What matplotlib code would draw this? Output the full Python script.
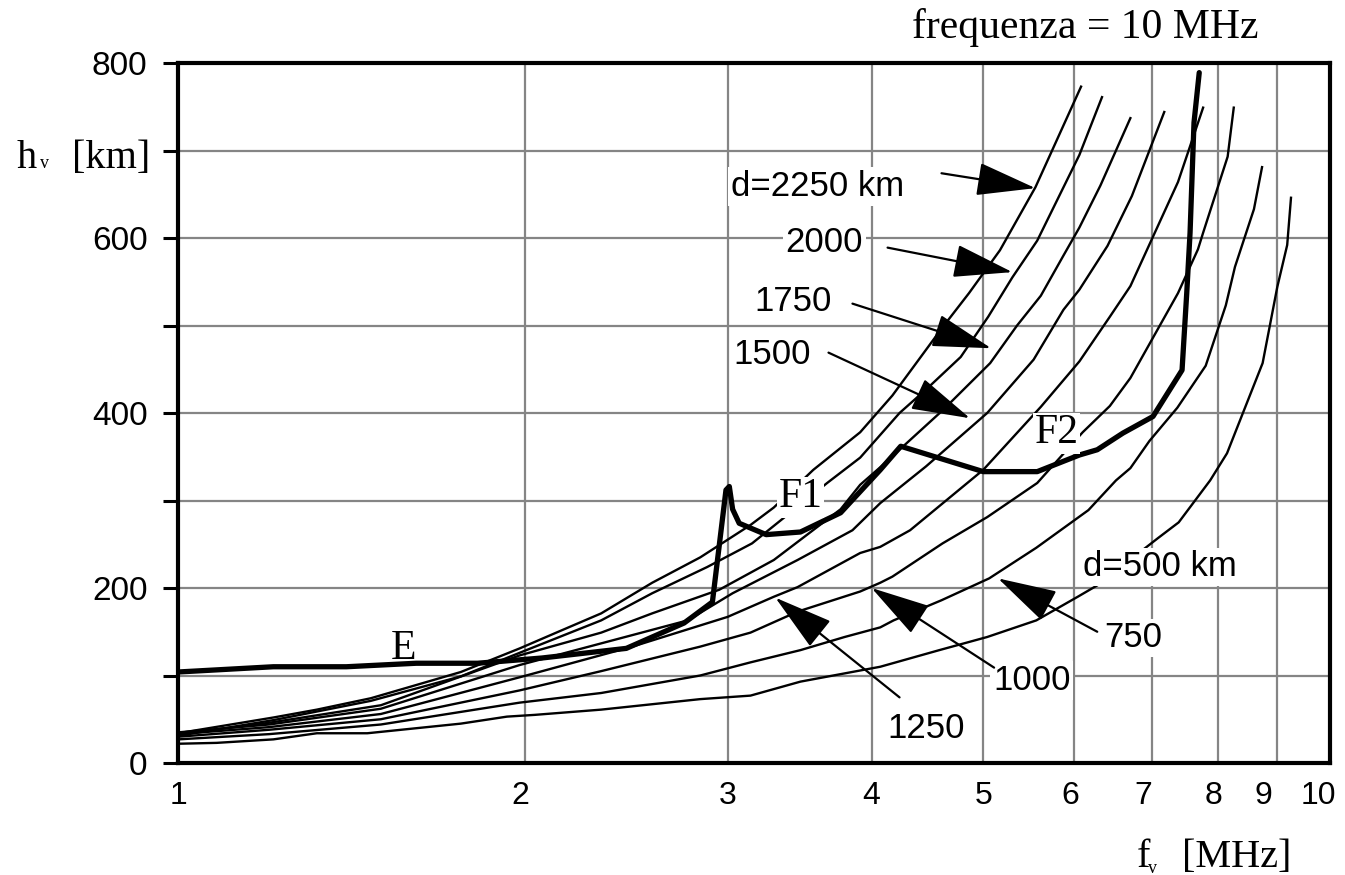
import numpy as np
import matplotlib.pyplot as plt
from matplotlib.ticker import FixedLocator, FuncFormatter, NullLocator, NullFormatter
from matplotlib.transforms import ScaledTranslation

# h_v vs f_v for fixed ground distance d (operating frequency 10 MHz)
f_500 = [1.0, 1.08, 1.21, 1.32, 1.46, 1.76, 1.93, 2.04, 2.33, 2.84, 3.14, 3.47, 4.07, 4.58,
         5.04, 5.56, 6.04, 6.28, 7.09, 7.39, 7.87, 8.14, 8.27, 8.74, 9.0, 9.18, 9.25]
h_500 = [22, 23, 27, 34, 34, 45, 53, 55, 61, 73, 77, 93, 110, 129,
         144, 163, 190, 203, 257, 275, 323, 354, 377, 457, 544, 592, 646]

f_750 = [1.0, 1.2, 1.5, 1.98, 2.33, 2.84, 3.14, 3.47, 3.79, 4.07, 4.18, 4.60, 5.06, 5.56,
         6.17, 6.52, 6.71, 6.97, 7.37, 7.80, 8.12, 8.27, 8.59, 8.73]
h_750 = [27, 33, 44, 69, 80, 100, 115, 129, 144, 155, 163, 186, 211, 246,
         289, 323, 337, 368, 406, 454, 523, 567, 633, 681]

f_1000 = [1.0, 1.2, 1.5, 1.98, 2.33, 2.84, 3.14, 3.45, 3.91, 4.07, 4.17, 4.61, 5.04, 5.57,
          6.10, 6.44, 6.71, 7.38, 7.68, 7.76, 8.15, 8.25]
h_1000 = [30, 38, 50, 83, 105, 133, 149, 173, 196, 206, 213, 251, 281, 320,
          378, 408, 440, 537, 587, 606, 693, 749]

f_1250 = [1.0, 1.2, 1.5, 1.98, 2.48, 3.0, 3.29, 3.45, 3.91, 4.07, 4.32, 5.0, 5.61, 6.06,
          6.44, 6.71, 7.38, 7.76]
h_1250 = [33, 41, 56, 98, 133, 167, 190, 201, 240, 247, 266, 335, 407, 459,
          510, 545, 664, 749]

f_1500 = [1.0, 1.2, 1.5, 1.98, 2.77, 3.03, 3.45, 3.85, 4.07, 4.46, 5.04, 5.53, 5.87, 6.06,
          6.41, 6.73, 7.18]
h_1500 = [35, 44, 62, 112, 163, 194, 232, 266, 297, 339, 400, 461, 518, 541,
          591, 648, 744]

f_1750 = [1.0, 1.2, 1.5, 1.98, 2.33, 2.58, 2.95, 3.29, 3.76, 3.91, 4.07, 4.61, 5.07, 5.35,
          5.61, 5.87, 6.06, 6.32, 6.71]
h_1750 = [33, 46, 66, 123, 149, 171, 198, 232, 290, 318, 338, 403, 457, 500,
          534, 580, 612, 660, 737]

f_2000 = [1.0, 1.21, 1.47, 1.76, 1.98, 2.33, 2.58, 2.88, 3.15, 3.66, 3.91, 4.23, 4.47, 4.78,
          5.05, 5.30, 5.57, 6.06, 6.34]
h_2000 = [31, 49, 71, 99, 126, 163, 194, 224, 251, 320, 349, 400, 428, 464,
          510, 555, 597, 695, 761]

f_2250 = [1.0, 1.21, 1.32, 1.47, 1.58, 1.76, 1.98, 2.13, 2.33, 2.58, 2.84, 3.14, 3.29, 3.56,
          3.91, 4.17, 4.61, 4.86, 5.17, 5.55, 6.08]
h_2250 = [34, 52, 61, 74, 86, 104, 131, 149, 171, 206, 235, 272, 292, 335,
          378, 420, 498, 537, 586, 658, 773]

# vertical ionogram (thick line)
f_iono = [1.0, 1.21, 1.40, 1.61, 1.82, 2.07, 2.45, 2.75, 2.91, 2.99, 3.01, 3.03, 3.07, 3.24,
          3.47, 3.76, 4.07, 4.24, 5.0, 5.57, 6.06, 6.28, 6.61, 7.02, 7.44, 7.51, 7.56, 7.62, 7.70]
h_iono = [104, 110, 110, 114, 114, 120, 131, 160, 184, 312, 316, 290, 274, 261,
          264, 286, 335, 362, 333, 333, 352, 358, 377, 396, 449, 537, 606, 732, 789]

x_ticks = [1, 2, 3, 4, 5, 6, 7, 8, 9, 10]
x_shift = [0, -4, 0, 0, 0, -4, -8, -5, -14, -12]   # px nudges of the labels as in the original
y_ticks = [0, 100, 200, 300, 400, 500, 600, 700, 800]

curves = [(f_500, h_500), (f_750, h_750), (f_1000, h_1000), (f_1250, h_1250),
          (f_1500, h_1500), (f_1750, h_1750), (f_2000, h_2000), (f_2250, h_2250)]

W, H = 1345, 875
fig = plt.figure(figsize=(W / 100, H / 100), dpi=100)
ax = fig.add_axes([178 / W, 1 - 763 / H, (1330 - 178) / W, (763 - 63) / H])

for fv, hv in curves:
    ax.plot(fv, hv, color='k', lw=1.7, zorder=3)
ax.plot(f_iono, h_iono, color='k', lw=3.8, zorder=4,
        solid_joinstyle='round', solid_capstyle='round')

ax.set_xscale('log')
ax.set_xlim(1, 10)
ax.set_ylim(0, 800)
ax.xaxis.set_major_locator(FixedLocator(x_ticks))
ax.xaxis.set_minor_locator(NullLocator())
ax.xaxis.set_major_formatter(NullFormatter())
ax.yaxis.set_major_locator(FixedLocator(y_ticks))
ax.yaxis.set_major_formatter(FuncFormatter(lambda v, p: '%d' % v if v % 200 == 0 else ''))

ax.grid(True, color='#858585', lw=1.6)
ax.set_axisbelow(True)
for s in ax.spines.values():
    s.set_linewidth(3)
ax.tick_params(axis='x', length=0)
ax.tick_params(axis='y', direction='out', length=11, width=2.2, pad=11, labelsize=24)
for lab in ax.get_yticklabels():
    lab.set_fontfamily('Liberation Sans')

# x tick labels drawn as texts so they can be nudged like the original
for v, dx in zip(x_ticks, x_shift):
    tr = ax.get_xaxis_transform() + ScaledTranslation(dx / 100, -33 / 100, fig.dpi_scale_trans)
    ax.text(v, 0, str(v), transform=tr, fontsize=23, family='Liberation Sans',
            ha='center', va='center', clip_on=False)

# curve labels with arrows
sans = dict(fontsize=25, family='Liberation Sans', ha='center', va='center', zorder=6,
            bbox=dict(facecolor='white', edgecolor='none', pad=2))
arrow = dict(arrowstyle='-|>,head_length=1.5,head_width=0.42', color='k', lw=1.6,
             shrinkA=0, shrinkB=0, mutation_scale=25)

labels = [('d=2250 km', (3.59, 659), (4.60, 674), (5.55, 657)),
          ('2000', (3.64, 595), (4.13, 589), (5.30, 561)),
          ('1750', (3.42, 527), (3.85, 525), (5.08, 474)),
          ('1500', (3.28, 467), (3.67, 469), (4.87, 394)),
          ('750', (6.75, 143), (6.28, 150), (5.15, 211)),
          ('1000', (5.51, 94), (5.11, 109), (4.00, 200)),
          ('1250', (4.46, 39), (4.23, 75), (3.30, 189))]
for txt, pos, tail, tip in labels:
    ax.text(pos[0], pos[1], txt, **sans)
    ax.annotate('', xy=tip, xytext=tail, arrowprops=arrow, zorder=7)
ax.text(7.12, 224, 'd=500 km', **sans)

serif = dict(fontsize=30, family='Liberation Serif', ha='center', va='center', zorder=6,
             bbox=dict(facecolor='white', edgecolor='none', pad=1))
ax.text(3.47, 304, 'F1', **serif)
ax.text(5.79, 377, 'F2', **serif)
ax.text(1.57, 131, 'E', fontsize=30, family='Liberation Serif', ha='center', va='center')

# axis titles
def fp(x, y):
    return x / W, 1 - y / H

fig.text(*fp(912, 38), 'frequenza = 10 MHz', fontsize=30, family='Liberation Serif',
         ha='left', va='baseline')
fig.text(*fp(17, 168), 'h', fontsize=29, family='Liberation Serif', ha='left', va='baseline')
fig.text(*fp(40, 168), 'v', fontsize=13, family='Liberation Serif', ha='left', va='baseline')
fig.text(*fp(72, 168), '[km]', fontsize=29, family='Liberation Serif', ha='left', va='baseline')
fig.text(*fp(1137, 867), 'f', fontsize=29, family='Liberation Serif', ha='left', va='baseline')
fig.text(*fp(1148, 873), 'v', fontsize=13, family='Liberation Serif', ha='left', va='baseline')
fig.text(*fp(1182, 867), '[MHz]', fontsize=29, family='Liberation Serif', ha='left', va='baseline')

fig.savefig('out.png', dpi=100)
